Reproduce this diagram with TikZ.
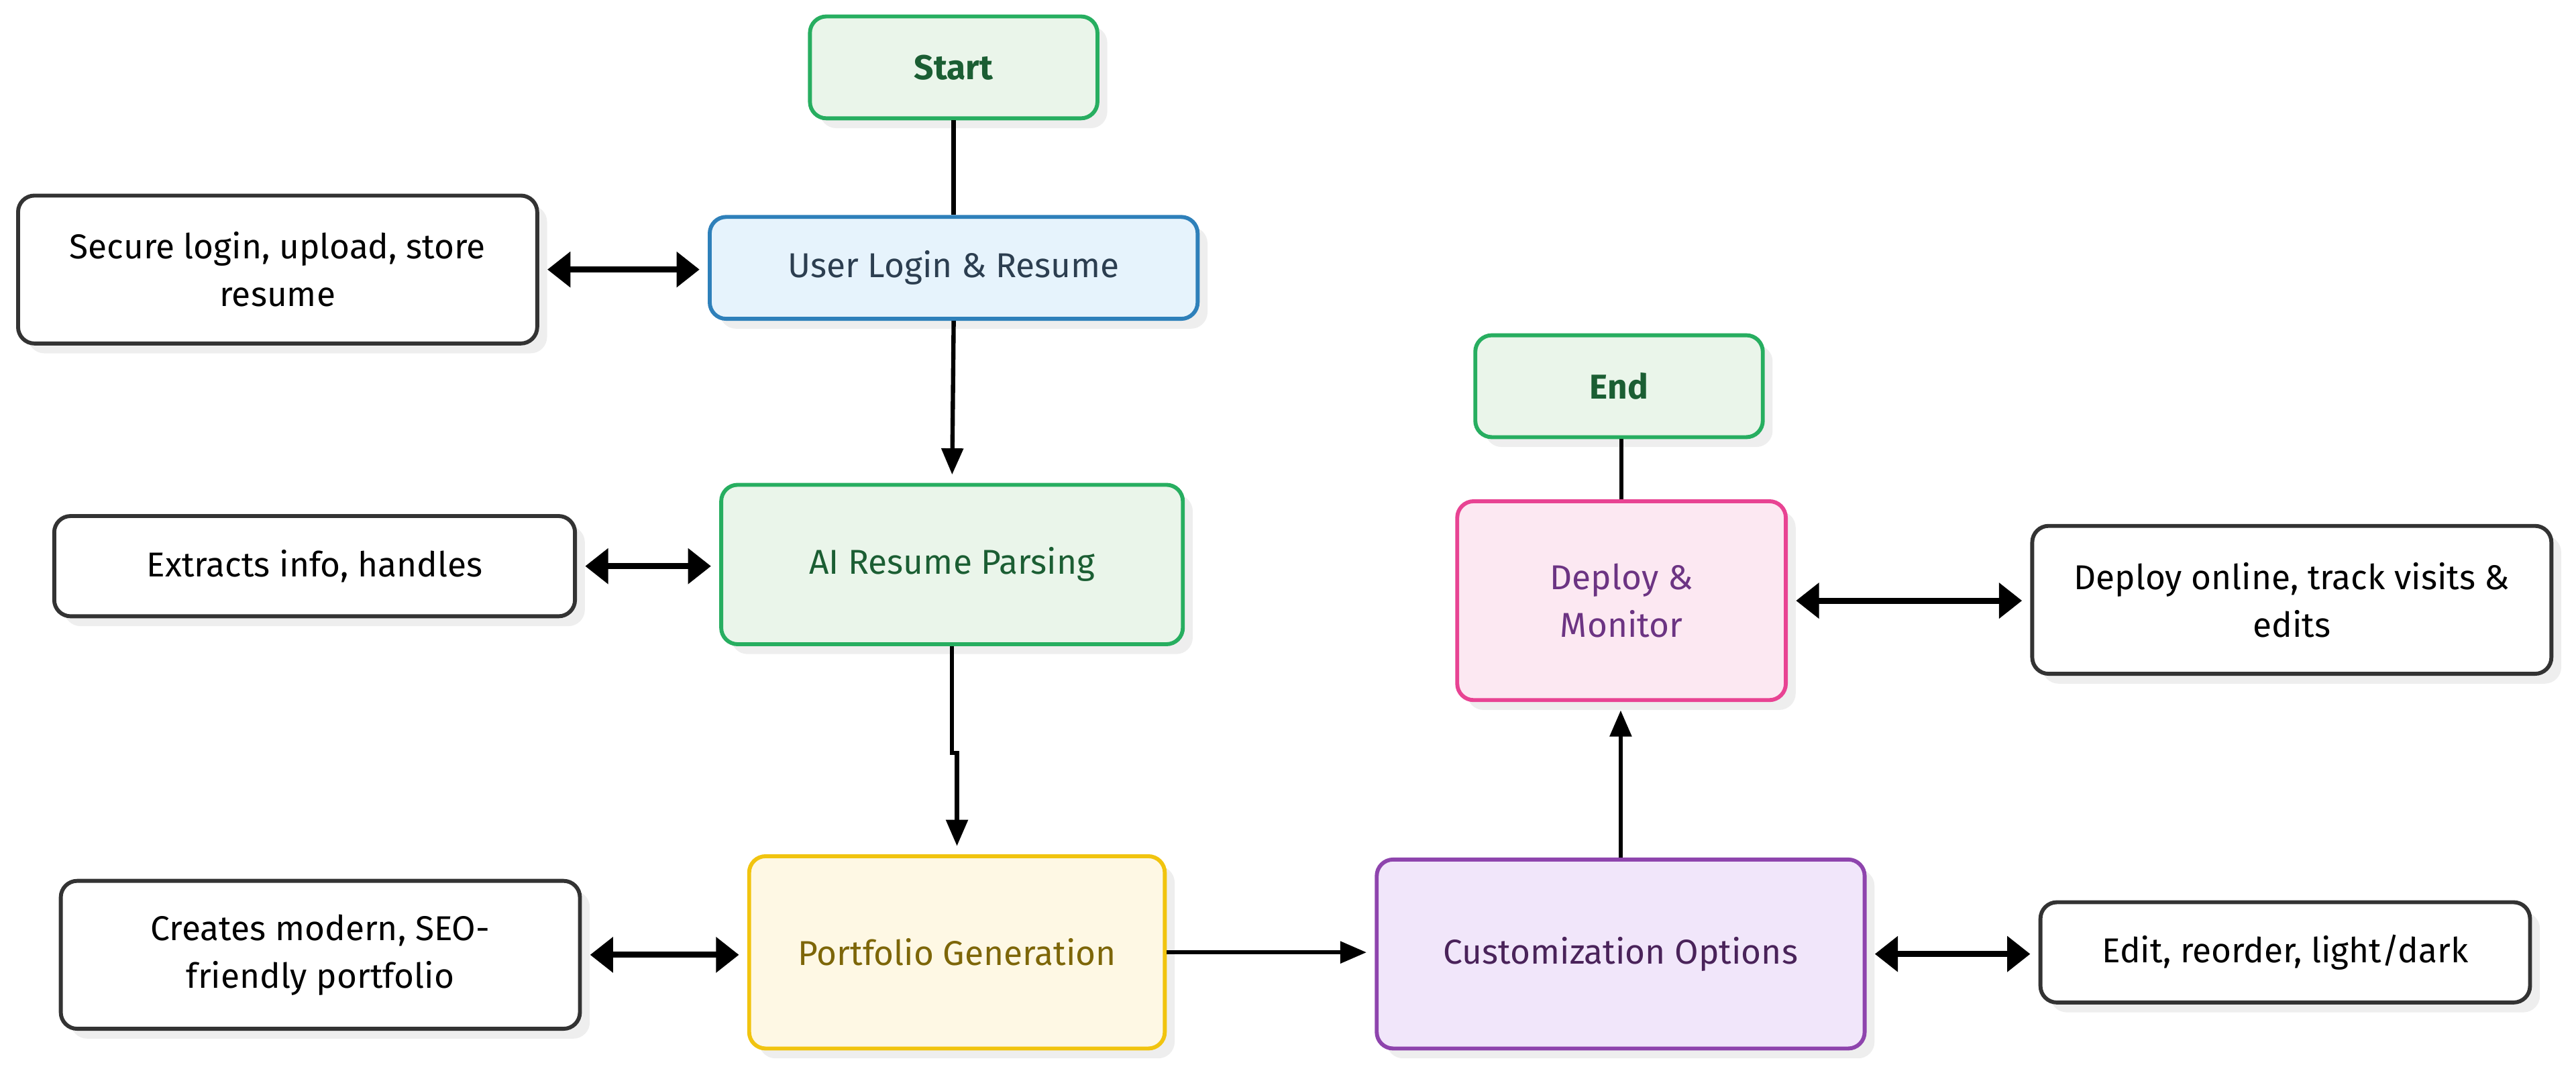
\documentclass[tikz,border=0pt]{standalone}
\usepackage{fontspec}
\setmainfont{Fira Sans}
\usetikzlibrary{arrows.meta,shadows,calc}
\definecolor{gfill}{HTML}{EAF5EA}
\definecolor{gdraw}{HTML}{27AE60}
\definecolor{gtext}{HTML}{1B5E33}
\definecolor{bfill}{HTML}{E6F3FC}
\definecolor{bdraw}{HTML}{2E80BA}
\definecolor{btext}{HTML}{2C3E50}
\definecolor{yfill}{HTML}{FEF8E4}
\definecolor{ydraw}{HTML}{F1C40F}
\definecolor{ytext}{HTML}{7D6608}
\definecolor{pfill}{HTML}{F1E6FA}
\definecolor{pdraw}{HTML}{8E44AD}
\definecolor{ptext}{HTML}{4A235A}
\definecolor{kfill}{HTML}{FCE8F2}
\definecolor{kdraw}{HTML}{E84393}
\definecolor{ktext}{HTML}{6C3483}
\definecolor{sdraw}{HTML}{333333}
\definecolor{shadowc}{HTML}{EEEEEE}
\tikzset{
  base/.style={rounded corners=10pt, line width=2.4pt, align=center, inner sep=0pt,
    font=\fontsize{21}{29}\selectfont,
    drop shadow={shadow xshift=6pt, shadow yshift=-6pt, fill=shadowc, opacity=1}},
  termbox/.style={base, fill=gfill, draw=gdraw, text=gtext, font=\fontsize{21}{29}\selectfont\bfseries},
  greenbox/.style={base, fill=gfill, draw=gdraw, text=gtext},
  bluebox/.style={base, fill=bfill, draw=bdraw, text=btext},
  yellowbox/.style={base, fill=yfill, draw=ydraw, text=ytext},
  purplebox/.style={base, fill=pfill, draw=pdraw, text=ptext},
  pinkbox/.style={base, fill=kfill, draw=kdraw, text=ktext},
  sidebox/.style={base, fill=white, draw=sdraw, text=black},
  flow/.style={line width=2.6pt, draw=black, -{Triangle[length=16pt,width=13pt]}, shorten >=5pt},
  plainline/.style={line width=2.6pt, draw=black},
  both/.style={line width=3.6pt, draw=black, {Triangle[length=14pt,width=21pt]}-{Triangle[length=14pt,width=21pt]}, shorten >=5pt, shorten <=5pt},
}
\begin{document}
\begin{tikzpicture}[x=1pt,y=-1pt]
\useasboundingbox (0,0) rectangle (1568,651.3);
\node[termbox, minimum width=175pt, minimum height=62pt] (start) at (580.5,41) {Start};
\node[bluebox, minimum width=297pt, minimum height=62pt] (user) at (580.5,163) {User Login \& Resume};
\node[sidebox, minimum width=316pt, minimum height=90pt] (secure) at (169,164) {Secure login, upload, store\\resume};
\node[greenbox, minimum width=281pt, minimum height=97pt] (ai) at (579.5,343.5) {AI Resume Parsing};
\node[sidebox, minimum width=317pt, minimum height=61pt] (extract) at (191.5,344.5) {Extracts info, handles};
\node[yellowbox, minimum width=253pt, minimum height=117pt] (port) at (582.5,579.5) {Portfolio Generation};
\node[sidebox, minimum width=316pt, minimum height=90pt] (creates) at (195,581) {Creates modern, SEO-\\friendly portfolio};
\node[purplebox, minimum width=297pt, minimum height=115pt] (custom) at (986.5,580.5) {Customization Options};
\node[sidebox, minimum width=298pt, minimum height=61pt] (edit) at (1391,579.5) {Edit, reorder, light/dark};
\node[pinkbox, minimum width=200pt, minimum height=121pt] (deploy) at (987,365.5) {Deploy \&\\Monitor};
\node[sidebox, minimum width=316pt, minimum height=90pt] (online) at (1395,365) {Deploy online, track visits \&\\edits};
\node[termbox, minimum width=175pt, minimum height=62pt] (end) at (985.5,235) {End};

\draw[plainline] (start.south) -- (user.north);
\draw[flow] (user.south) -- (ai.north);
\draw[flow] (ai.south) -- ($(ai.south)+(0,65)$) -| (port.north);
\draw[flow] (port.east) -- (port.east -| custom.west);
\draw[flow] (custom.north) -- (custom.north |- deploy.south);
\draw[plainline] (deploy.north) -- (deploy.north |- end.south);

\draw[both] (secure.east) -- (secure.east -| user.west);
\draw[both] (extract.east) -- (extract.east -| ai.west);
\draw[both] (creates.east) -- (creates.east -| port.west);
\draw[both] (custom.east) -- (custom.east -| edit.west);
\draw[both] (deploy.east) -- (deploy.east -| online.west);
\end{tikzpicture}
\end{document}
